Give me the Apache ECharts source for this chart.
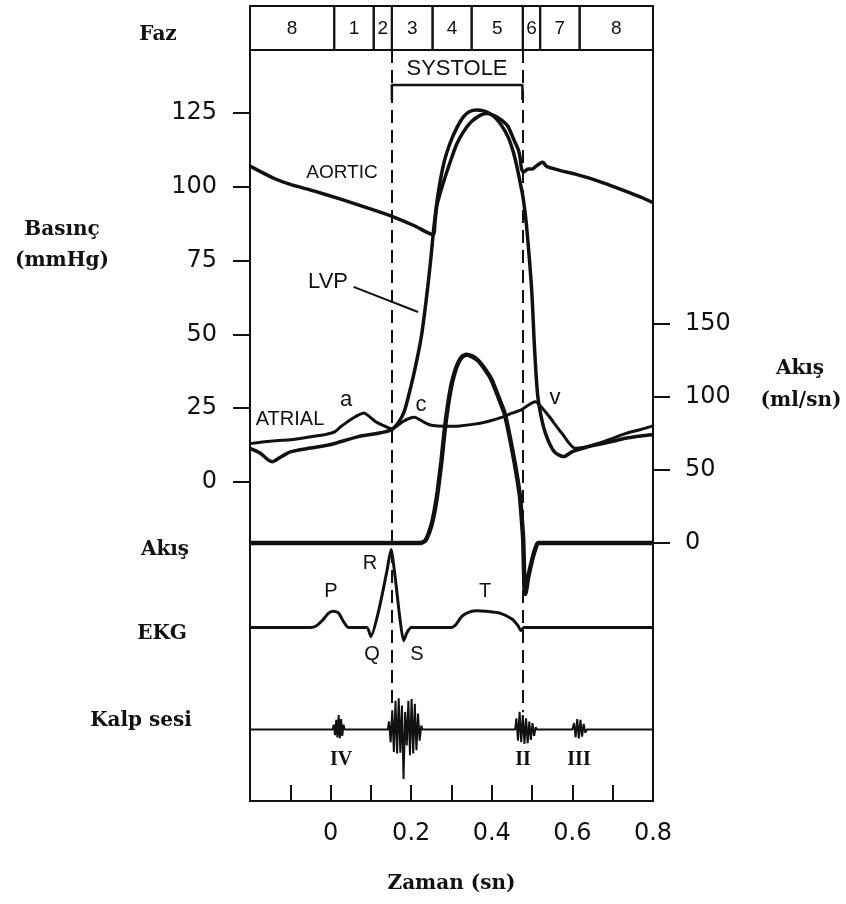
<!DOCTYPE html>
<html>
<head>
<meta charset="utf-8">
<script src="https://cdn.jsdelivr.net/npm/echarts@6/dist/echarts.min.js"></script>
<style>
html, body { margin: 0; padding: 0; background: #fff; }
#chart { width: 846px; height: 904px; }
</style>
</head>
<body>
<div id="chart"></div>
<script>
// eksen degerleri
var timeTicks = [-0.1, 0, 0.1, 0.2, 0.3, 0.4, 0.5, 0.6, 0.7];
var timeLabels = [0, 0.2, 0.4, 0.6, 0.8];
var pressureTicks = [0, 25, 50, 75, 100, 125];
var flowTicks = [0, 50, 100, 150];

// fazlar (sn)
var phaseBounds = [-0.2, 0.009, 0.107, 0.152, 0.253, 0.35, 0.477, 0.52, 0.618, 0.8];
var phaseNames = ['8', '1', '2', '3', '4', '5', '6', '7', '8'];
var systoleBounds = [0.152, 0.476];

// basinc (mmHg)
var aortic = [
  [-0.2, 107], [-0.141, 102.9], [-0.1, 100.8], [-0.042, 98.6], [0.025, 95.8],
  [0.108, 92.1], [0.154, 89.9], [0.208, 86.8], [0.254, 83.8], [0.259, 88],
  [0.264, 93.8], [0.28, 101.5], [0.297, 108.5], [0.313, 114.5], [0.33, 118.7],
  [0.349, 122], [0.372, 124.3], [0.39, 124.8], [0.407, 124], [0.425, 122.5],
  [0.44, 120.5], [0.453, 116.5], [0.466, 112.5], [0.47, 110], [0.474, 106],
  [0.479, 105], [0.49, 106], [0.5, 106], [0.51, 107], [0.52, 108], [0.527, 108.3],
  [0.535, 107], [0.549, 106.3], [0.575, 105.3], [0.607, 104.3], [0.64, 103],
  [0.673, 101.5], [0.707, 99.8], [0.74, 98.1], [0.775, 96.2], [0.8, 94.6]
];
var lvp = [
  [-0.2, 11.4], [-0.175, 9.8], [-0.155, 7.5], [-0.145, 6.9], [-0.135, 7.5],
  [-0.1, 10.2], [-0.05, 11.5], [0, 12.7], [0.067, 15.3], [0.125, 16.7],
  [0.152, 17.8], [0.17, 20.5], [0.183, 24], [0.195, 30], [0.208, 37.5],
  [0.218, 44], [0.226, 50], [0.233, 57], [0.241, 66], [0.249, 76], [0.256, 86],
  [0.266, 97], [0.281, 108], [0.297, 115], [0.314, 120.2], [0.33, 123.8],
  [0.345, 125.5], [0.362, 126], [0.378, 125.8], [0.395, 124.8], [0.41, 123.2],
  [0.424, 120.8], [0.44, 117], [0.453, 112], [0.462, 107], [0.47, 101.7],
  [0.478, 96], [0.486, 87], [0.499, 65], [0.505, 48], [0.51, 36], [0.515, 28],
  [0.525, 20.5], [0.532, 17], [0.545, 12.5], [0.557, 10], [0.578, 8.6],
  [0.6, 10.3], [0.63, 11.6], [0.657, 12.5], [0.7, 13.8], [0.731, 14.8],
  [0.77, 15.6], [0.8, 16]
];
var atrial = [
  [-0.2, 13], [-0.15, 13.8], [-0.1, 14.3], [-0.05, 15.3], [-0.01, 16.2],
  [0.01, 17], [0.025, 18.7], [0.04, 20.2], [0.06, 22], [0.083, 23.4],
  [0.095, 22.3], [0.11, 20.6], [0.13, 19.2], [0.152, 18], [0.165, 19],
  [0.18, 20.5], [0.195, 21.5], [0.208, 21.9], [0.22, 21.2], [0.235, 20],
  [0.25, 19.2], [0.283, 18.9], [0.32, 19], [0.357, 19.6], [0.39, 20.5],
  [0.424, 21.9], [0.45, 23.3], [0.474, 24.5], [0.49, 26], [0.507, 27.2],
  [0.515, 26.6], [0.54, 22.6], [0.574, 16.5], [0.607, 11.4], [0.63, 11.8],
  [0.657, 12.8], [0.7, 14.8], [0.731, 16.4], [0.77, 17.8], [0.8, 19]
];

// akis (ml/sn)
var flow = [
  [-0.2, 0], [0.224, 0], [0.236, 2], [0.249, 11], [0.258, 22], [0.266, 36],
  [0.275, 56], [0.283, 77], [0.291, 94], [0.299, 107], [0.307, 116], [0.316, 123],
  [0.326, 127.5], [0.337, 129], [0.35, 128], [0.366, 125], [0.383, 119],
  [0.399, 112], [0.415, 101], [0.432, 88.6], [0.445, 72], [0.457, 54.6],
  [0.464, 43], [0.47, 31.7], [0.474, 18], [0.478, 2], [0.481, -30], [0.483, -35],
  [0.49, -24], [0.5, -11.6], [0.508, -4], [0.515, 0], [0.8, 0]
];

// EKG (mV)
var ekg = [
  [-0.2, 0], [-0.05, 0], [-0.035, 0.03], [-0.02, 0.12], [-0.005, 0.24],
  [0.008, 0.27], [0.02, 0.24], [0.03, 0.12], [0.04, 0.02], [0.045, 0],
  [0.09, 0], [0.1, -0.15], [0.12, 0.3], [0.14, 0.95], [0.15, 1.3], [0.16, 0.85],
  [0.172, 0.15], [0.181, -0.22], [0.19, -0.08], [0.2, 0], [0.3, 0], [0.31, 0.04],
  [0.325, 0.18], [0.345, 0.26], [0.365, 0.28], [0.385, 0.27], [0.42, 0.24],
  [0.45, 0.14], [0.465, 0.03], [0.472, -0.05], [0.48, 0], [0.8, 0]
];

// kalp sesi (birim)
var sound = [
  [-0.2, 0], [0.005, 0],
  [0.008, 0.6], [0.011, -0.7], [0.014, 1.2], [0.017, -1.0], [0.02, 1.8], [0.023, -1.1],
  [0.026, 1.3], [0.029, -0.8], [0.032, 0.6], [0.035, 0],
  [0.142, 0],
  [0.145, 1.0], [0.149, -1.6], [0.153, 2.4], [0.157, -2.8], [0.161, 3.6], [0.165, -3.0],
  [0.169, 3.9], [0.173, -2.9], [0.177, 3.0], [0.181, -6.2], [0.185, 2.2], [0.189, -2.0],
  [0.193, 3.6], [0.197, -3.2], [0.201, 3.8], [0.205, -3.0], [0.209, 3.2], [0.213, -2.6],
  [0.217, 2.0], [0.221, -1.4], [0.225, 0.5], [0.228, 0],
  [0.458, 0],
  [0.461, 1.4], [0.465, -1.4], [0.469, 2.2], [0.473, -1.6], [0.477, 1.8], [0.481, -1.8],
  [0.485, 1.4], [0.489, -1.7], [0.493, 1.0], [0.497, -1.3], [0.501, 0.8], [0.505, -0.8],
  [0.509, 0.3], [0.512, 0],
  [0.6, 0],
  [0.604, 0.8], [0.608, -1.0], [0.612, 1.3], [0.616, -1.1], [0.62, 1.2], [0.624, -0.9],
  [0.628, 0.7], [0.632, -0.4], [0.636, 0],
  [0.8, 0]
];

var ink = '#111';
var sans = '"Liberation Sans", Arial, sans-serif';
var tickFont = '"DejaVu Sans", sans-serif';
var serifBold = 'bold 20px "DejaVu Serif", serif';

function txt(s, x, y, font) {
  return {
    type: 'text', x: x, y: y, silent: true,
    style: { text: s, font: font, fill: ink, align: 'center', verticalAlign: 'middle' }
  };
}

var chart = echarts.init(document.getElementById('chart'));

var option = {
  animation: false,
  backgroundColor: '#fff',
  grid: [
    { left: 250, top: 50, width: 403, height: 751, show: true, borderColor: ink, borderWidth: 2 },
    { left: 250, top: 6, width: 403, height: 44, show: false }
  ],
  xAxis: [
    {
      type: 'value', gridIndex: 0, min: -0.2, max: 0.8,
      axisLine: { show: true, onZero: false, lineStyle: { color: ink, width: 2 } },
      axisTick: { show: true, inside: true, length: 16, customValues: timeTicks, lineStyle: { color: ink, width: 2 } },
      axisLabel: { customValues: timeLabels, margin: 21, color: ink, fontFamily: tickFont, fontSize: 24 },
      splitLine: { show: false },
      name: 'Zaman (sn)', nameLocation: 'middle', nameGap: 73,
      nameTextStyle: { color: ink, fontFamily: '"DejaVu Serif", serif', fontWeight: 'bold', fontSize: 20 }
    },
    { type: 'value', gridIndex: 1, min: -0.2, max: 0.8, show: false }
  ],
  yAxis: [
    {
      type: 'value', gridIndex: 0, position: 'left', min: -108.06, max: 146.34,
      axisLine: { show: true, onZero: false, lineStyle: { color: ink, width: 2 } },
      axisTick: { show: true, length: 17, customValues: pressureTicks, lineStyle: { color: ink, width: 2 } },
      axisLabel: { customValues: pressureTicks, margin: 33, color: ink, fontFamily: tickFont, fontSize: 24 },
      splitLine: { show: false }
    },
    {
      type: 'value', gridIndex: 0, position: 'right', min: -176.7, max: 337.67,
      axisLine: { show: true, onZero: false, lineStyle: { color: ink, width: 2 } },
      axisTick: { show: true, length: 17, customValues: flowTicks, lineStyle: { color: ink, width: 2 } },
      axisLabel: { customValues: flowTicks, margin: 32, color: ink, fontFamily: tickFont, fontSize: 24 },
      splitLine: { show: false }
    },
    { type: 'value', gridIndex: 0, min: -2.892, max: 9.625, show: false },
    { type: 'value', gridIndex: 0, min: -8.9375, max: 84.9375, show: false },
    { type: 'value', gridIndex: 1, min: 0, max: 1, show: false }
  ],
  series: [
    {
      // faz kutulari
      type: 'custom', xAxisIndex: 1, yAxisIndex: 4, silent: true,
      data: phaseNames.map(function (n, i) { return [phaseBounds[i], phaseBounds[i + 1]]; }),
      encode: { x: [0, 1] },
      renderItem: function (params, api) {
        var a = api.coord([api.value(0), 0]);
        var b = api.coord([api.value(1), 1]);
        var cs = params.coordSys;
        return {
          type: 'group',
          children: [
            { type: 'rect', shape: { x: a[0], y: cs.y, width: b[0] - a[0], height: cs.height },
              style: { fill: 'none', stroke: ink, lineWidth: 2 } },
            { type: 'text', x: (a[0] + b[0]) / 2, y: cs.y + cs.height / 2 + 1,
              style: { text: phaseNames[params.dataIndex], font: '19px ' + sans, fill: ink, align: 'center', verticalAlign: 'middle' } }
          ]
        };
      }
    },
    {
      name: 'AORTIC', type: 'line', xAxisIndex: 0, yAxisIndex: 0, data: aortic,
      showSymbol: false, smooth: 0.25, lineStyle: { color: ink, width: 3.5 },
      markLine: {
        silent: true, symbol: ['none', 'none'], label: { show: false },
        lineStyle: { color: ink, width: 2, type: [13, 7] },
        data: [
          [{ coord: [systoleBounds[0], 146.34] }, { coord: [systoleBounds[0], -75] }],
          [{ coord: [systoleBounds[1], 146.34] }, { coord: [systoleBounds[1], -78] }]
        ]
      }
    },
    {
      name: 'LVP', type: 'line', xAxisIndex: 0, yAxisIndex: 0, data: lvp,
      showSymbol: false, smooth: 0.25, lineStyle: { color: ink, width: 3.5 }
    },
    {
      name: 'ATRIAL', type: 'line', xAxisIndex: 0, yAxisIndex: 0, data: atrial,
      showSymbol: false, smooth: 0.25, lineStyle: { color: ink, width: 3 }
    },
    {
      name: 'Akış', type: 'line', xAxisIndex: 0, yAxisIndex: 1, data: flow,
      showSymbol: false, smooth: 0.2, lineStyle: { color: ink, width: 4.5 }
    },
    {
      name: 'EKG', type: 'line', xAxisIndex: 0, yAxisIndex: 2, data: ekg,
      showSymbol: false, smooth: 0.2, lineStyle: { color: ink, width: 3 }
    },
    {
      name: 'Kalp sesi', type: 'line', xAxisIndex: 0, yAxisIndex: 3, data: sound,
      showSymbol: false, lineStyle: { color: ink, width: 2 }
    },
    {
      // sistol parantezi
      type: 'line', xAxisIndex: 0, yAxisIndex: 0, silent: true, showSymbol: false,
      data: [[systoleBounds[0], 129.4], [systoleBounds[0], 134.5], [systoleBounds[1], 134.5], [systoleBounds[1], 129.4]],
      lineStyle: { color: ink, width: 2.5 }
    },
    {
      // LVP etiket cizgisi
      type: 'line', xAxisIndex: 0, yAxisIndex: 0, silent: true, showSymbol: false,
      data: [[0.057, 66.1], [0.217, 57.6]],
      lineStyle: { color: ink, width: 2 }
    }
  ],
  graphic: [
    txt('Faz', 158, 35, serifBold),
    txt('Basınç', 62, 230, serifBold),
    txt('(mmHg)', 62, 261, serifBold),
    txt('Akış', 165, 550, serifBold),
    txt('EKG', 162, 634, serifBold),
    txt('Kalp sesi', 141, 721, serifBold),
    txt('Akış', 800, 369, serifBold),
    txt('(ml/sn)', 801, 401, serifBold),
    txt('SYSTOLE', 457, 69, '22px ' + sans),
    txt('AORTIC', 342, 173, '19px ' + sans),
    txt('LVP', 328, 282, '22px ' + sans),
    txt('ATRIAL', 290, 419, '20px ' + sans),
    txt('a', 346, 400, '22px ' + sans),
    txt('c', 421, 405, '22px ' + sans),
    txt('v', 555, 398, '22px ' + sans),
    txt('P', 331, 591, '20px ' + sans),
    txt('R', 370, 563, '20px ' + sans),
    txt('Q', 372, 654, '20px ' + sans),
    txt('S', 417, 654, '20px ' + sans),
    txt('T', 485, 591, '20px ' + sans),
    txt('IV', 341, 760, 'bold 20px "Liberation Serif", serif'),
    txt('II', 523, 760, 'bold 20px "Liberation Serif", serif'),
    txt('III', 579, 760, 'bold 20px "Liberation Serif", serif')
  ]
};

chart.setOption(option);
</script>
</body>
</html>
